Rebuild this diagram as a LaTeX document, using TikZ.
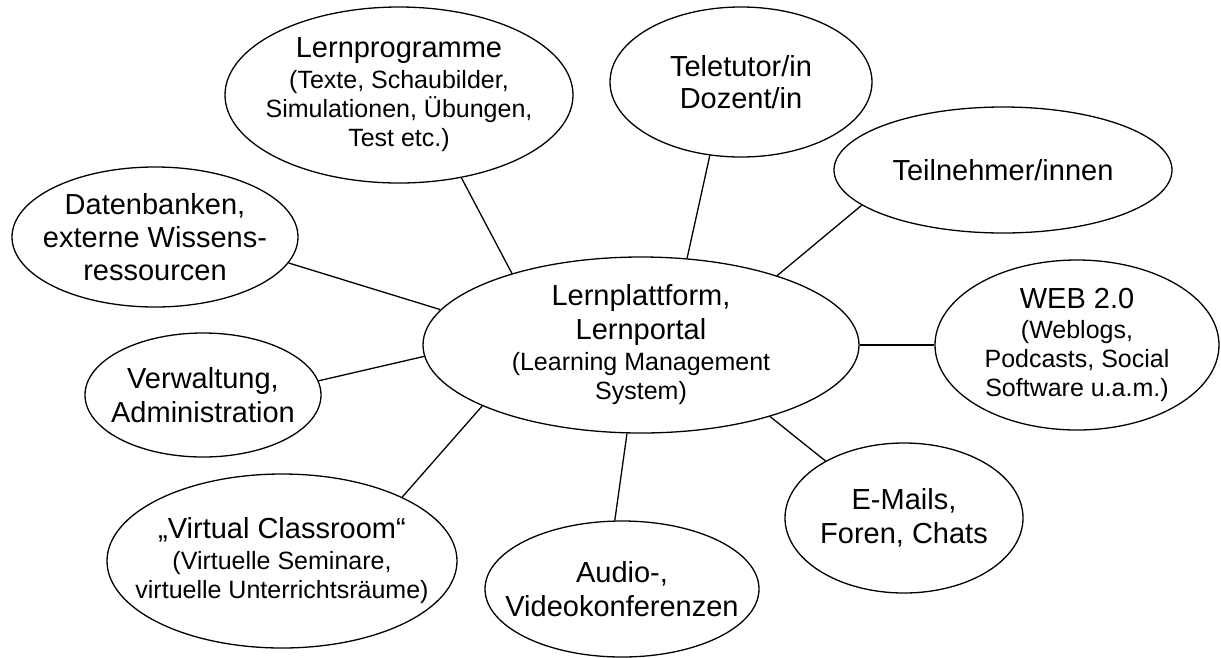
\documentclass[tikz,border=0pt]{standalone}
\usepackage{fontspec}
\setmainfont{Liberation Sans}
\usetikzlibrary{shapes.geometric}
\newcommand{\bigtxt}{\fontsize{29}{34}\selectfont}
\newcommand{\smalltxt}{\fontsize{25}{29}\selectfont}
\begin{document}
\begin{tikzpicture}[x=1pt,y=-1pt,
    bubble/.style={ellipse, draw=black, line width=1.3pt, inner xsep=-70pt, inner ysep=-40pt,
        align=center, font=\bigtxt},
    spoke/.style={line width=1.3pt}]
    \useasboundingbox (0,0) rectangle (1221,657);
    \node[bubble, minimum width=436pt, minimum height=176pt] (lms) at (641,345)
        {Lernplattform,\\Lernportal\\[-3pt]\smalltxt (Learning Management\\[-5pt]\smalltxt System)};
    \node[bubble, minimum width=348pt, minimum height=176pt] (prog) at (399,95)
        {Lernprogramme\\[-3pt]\smalltxt (Texte, Schaubilder,\\[-5pt]\smalltxt Simulationen, Übungen,\\[-5pt]\smalltxt Test etc.)};
    \node[bubble, minimum width=262pt, minimum height=150pt] (tutor) at (741,82)
        {Teletutor/in\\[-2pt]Dozent/in};
    \node[bubble, minimum width=338pt, minimum height=126pt] (part) at (1003,170)
        {Teilnehmer/innen};
    \node[bubble, minimum width=286pt, minimum height=140pt] (db) at (155,237)
        {Datenbanken,\\[-1pt]externe Wissens-\\[-1pt]ressourcen};
    \node[bubble, minimum width=284pt, minimum height=170pt] (web) at (1077,345)
        {WEB 2.0\\[-4pt]\smalltxt (Weblogs,\\[-5pt]\smalltxt Podcasts, Social\\[-5pt]\smalltxt Software u.a.m.)};
    \node[bubble, minimum width=236pt, minimum height=124pt] (admin) at (203,395)
        {Verwaltung,\\Administration};
    \node[bubble, minimum width=238pt, minimum height=150pt] (mail) at (904,518)
        {E-Mails,\\Foren, Chats};
    \node[bubble, minimum width=350pt, minimum height=174pt] (vclass) at (282,561)
        {„Virtual Classroom“\\[-3pt]\smalltxt (Virtuelle Seminare,\\[-5pt]\smalltxt virtuelle Unterrichtsräume)};
    \node[bubble, minimum width=274pt, minimum height=136pt] (conf) at (622,589)
        {Audio-,\\Videokonferenzen};
    % spokes
    \draw [spoke] (prog.-53) -- (lms.151);
    \draw [spoke] (tutor.-113) -- (lms.62);
    \draw [spoke] (part.-166) -- (lms.27);
    \draw [spoke] (db.-11) -- (lms.170);
    \draw [spoke] (web.180) -- (lms.0);
    \draw [spoke] (admin.7) -- (lms.183);
    \draw [spoke] (mail.144) -- (lms.-29);
    \draw [spoke] (conf.96) -- (lms.-99);
    \draw [spoke] (vclass.28) -- (lms.-159);
\end{tikzpicture}
\end{document}
